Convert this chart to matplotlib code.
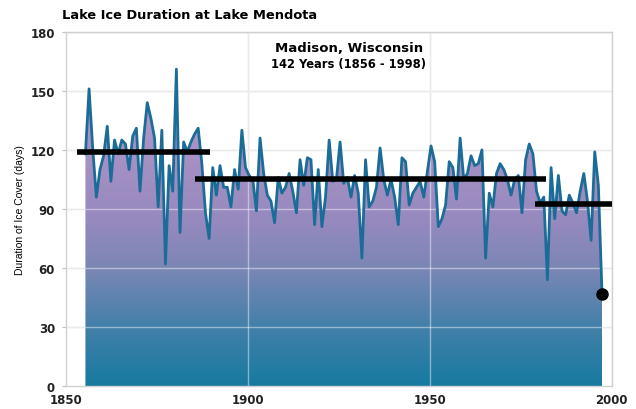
import numpy as np
import matplotlib as mpl
import matplotlib.pyplot as plt
from matplotlib.colors import LinearSegmentedColormap

# winter start year -> days of ice cover
startYear = 1855
iceDays = [118, 151, 121, 96, 110, 117, 132, 104, 125, 118,
           125, 123, 110, 127, 131, 99, 126, 144, 136, 126,
           91, 130, 62, 112, 99, 161, 78, 124, 119, 124,
           128, 131, 113, 88, 75, 111, 97, 112, 101, 101,
           91, 110, 100, 130, 111, 107, 105, 89, 126, 108,
           97, 94, 83, 106, 98, 101, 108, 99, 88, 115,
           102, 116, 115, 82, 110, 81, 96, 125, 104, 105,
           124, 103, 106, 96, 107, 98, 65, 115, 91, 94,
           101, 121, 105, 97, 105, 96, 82, 116, 114, 92,
           98, 101, 104, 96, 109, 122, 114, 81, 85, 92,
           114, 111, 95, 126, 105, 108, 117, 112, 113, 120,
           65, 98, 91, 108, 113, 110, 105, 97, 105, 107,
           88, 115, 123, 118, 99, 93, 96, 54, 111, 85,
           107, 89, 87, 97, 93, 88, 99, 108, 94, 74,
           119, 102, 47]
years = np.arange(startYear, startYear + len(iceDays)) + 0.3

# period averages (black bars)
periodStart = [1853, 1885.5, 1979]
periodEnd = [1889.5, 1982, 2001]
periodMean = [119, 105, 92.5]

yTicks = [0, 30, 60, 90, 120, 150, 180]
xTicks = [1850, 1900, 1950, 2000]

mpl.rcParams["font.family"] = "DejaVu Sans"

fig = plt.figure(figsize=(6.36, 4.10), dpi=100)
ax = fig.add_axes([0.104, 0.056, 0.858, 0.864])
ax.set_xlim(1850, 2000)
ax.set_ylim(0, 180)

# grid underneath
for v in yTicks[1:]:
    ax.axhline(v, color="#d9d9d9", lw=1, zorder=0)
for v in xTicks[1:]:
    ax.axvline(v, color="#d9d9d9", lw=1, zorder=0)

# gradient fill under the curve
fill = ax.fill_between(years, iceDays, 0, color="none", lw=0, zorder=1)
gradColors = [(0.0, "#177aa0"), (0.18, "#4280a9"), (0.35, "#7886b4"),
              (0.5, "#9589be"), (0.7, "#a690c4"), (1.0, "#b8a0cd")]
cmap = LinearSegmentedColormap.from_list("ice", gradColors)
grad = np.linspace(0, 1, 256).reshape(-1, 1)
img = ax.imshow(grad, cmap=cmap, origin="lower", aspect="auto",
                extent=[years[0], years[-1], 0, 165], zorder=1)
img.set_clip_path(fill.get_paths()[0], transform=ax.transData)
ax.set_xlim(1850, 2000)
ax.set_ylim(0, 180)

# light grid lines over the fill
for v in yTicks[1:]:
    ax.axhline(v, color="white", lw=1, alpha=0.45, zorder=2)
for v in xTicks[1:]:
    ax.axvline(v, color="white", lw=1, alpha=0.45, zorder=2)

ax.plot(years, iceDays, color="#1b6d98", lw=2.0, zorder=3)

for s, e, m in zip(periodStart, periodEnd, periodMean):
    ax.plot([s, e], [m, m], color="black", lw=4, solid_capstyle="butt", zorder=4)

ax.plot(years[-1], iceDays[-1], "o", color="black", ms=8, zorder=5)

for sp in ax.spines.values():
    sp.set_color("#d0d0d0")
    sp.set_linewidth(1)
ax.set_yticks(yTicks)
ax.set_xticks(xTicks)
ax.tick_params(axis="y", length=3, color="#c0c0c0", labelsize=8.5, pad=5)
ax.tick_params(axis="x", length=0, labelsize=8.5, pad=5)
for lab in ax.get_xticklabels() + ax.get_yticklabels():
    lab.set_fontweight("bold")
    lab.set_color("#222222")

ax.set_ylabel("Duration of Ice Cover (days)", fontsize=7.5, labelpad=4,
              family="Liberation Sans")

fig.text(0.097, 0.962, "Lake Ice Duration at Lake Mendota", fontsize=9.4,
         fontweight="bold", ha="left", va="center")
ax.text(0.518, 0.975, "Madison, Wisconsin", transform=ax.transAxes, fontsize=9.5,
        fontweight="bold", ha="center", va="top")
ax.text(0.518, 0.93, "142 Years (1856 - 1998)", transform=ax.transAxes, fontsize=8.3,
        fontweight="bold", ha="center", va="top")

fig.savefig("out.png", dpi=100)
